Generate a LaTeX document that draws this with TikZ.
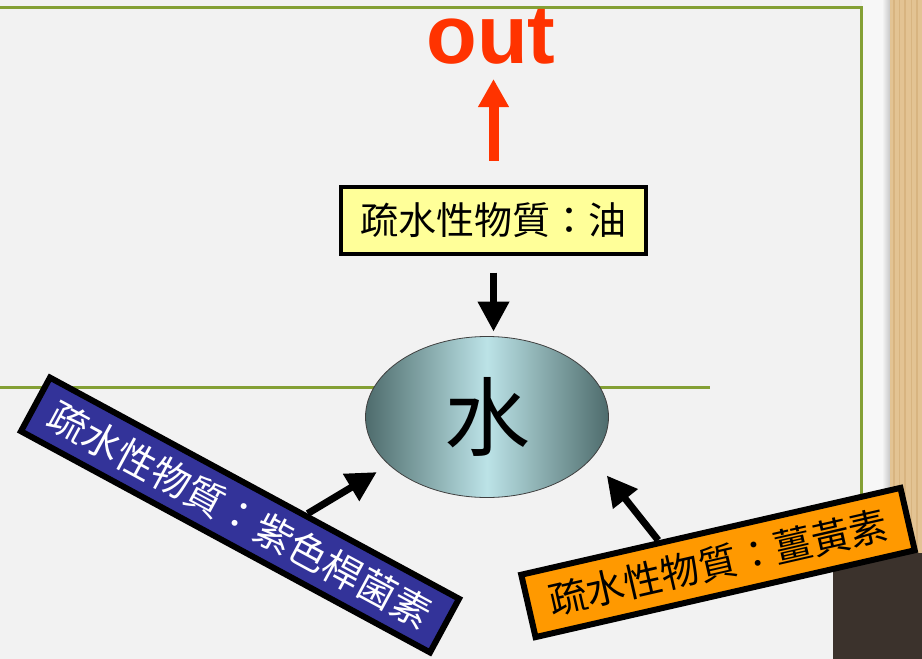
\documentclass[tikz,border=0pt]{standalone}
\usepackage{fontspec}
\setmainfont{Liberation Sans}
\newfontfamily\cjk{Noto Sans CJK TC}
\usetikzlibrary{arrows.meta,shapes.geometric,calc}
\definecolor{paper}{HTML}{F2F2F2}
\definecolor{paperhi}{HTML}{F7F7F7}
\definecolor{wood}{HTML}{E3C393}
\definecolor{woodd}{HTML}{D2AB74}
\definecolor{darkwood}{HTML}{3B322C}
\definecolor{frame}{HTML}{84A035}
\definecolor{oily}{HTML}{FFFF99}
\definecolor{purp}{HTML}{333399}
\definecolor{orng}{HTML}{FF9900}
\definecolor{outred}{HTML}{FF3300}
\definecolor{slate}{HTML}{4E6C6C}
\definecolor{aqua}{HTML}{BCE3E7}
\tikzset{
  labelbox/.style={rectangle, draw=black, inner sep=0pt},
  blkarrow/.style={draw=black, line width=7pt, -{Triangle[width=30pt,length=30pt]}},
  redarrow/.style={draw=outred, line width=10pt, -{Triangle[width=29pt,length=28pt]}},
  frameline/.style={draw=frame, line width=3pt},
}
\begin{document}
\begin{tikzpicture}[x=1pt,y=-1pt]
\useasboundingbox (0,0) rectangle (922,659);
% background
\fill[paper] (0,0) rectangle (890,659);
\fill[paperhi] (862,0) rectangle (884,659);
\shade[left color=paperhi, right color=black!22] (882,0) rectangle (890,659);
\fill[wood] (890,0) rectangle (922,659);
\foreach \x/\w in {894/1.2,899/0.8,905/1.5,911/0.7,917/1.1}
  \draw[woodd, line width=\w pt, opacity=0.6] (\x,0) -- (\x,659);
\fill[darkwood] (833,553) rectangle (922,659);
% frame lines
\draw[frameline] (0,7) -- (861,7) -- (861,520);
\draw[frameline] (0,387) -- (710,387);
% nodes
\node[labelbox, fill=oily, line width=4pt, minimum width=305pt, minimum height=67pt,
      font=\cjk\fontsize{38pt}{42pt}\selectfont] (oil) at (493.5,220) {疏水性物質：油};
\node[ellipse, draw=black!75, line width=0.8pt, left color=slate, right color=slate,
      middle color=aqua, minimum width=243pt, minimum height=161pt, inner sep=0pt]
      (water) at (487,417) {\raisebox{-10pt}{\cjk\fontsize{86pt}{90pt}\selectfont 水}};
\node[labelbox, fill=purp, text=white, line width=6pt, minimum width=465pt,
      minimum height=61pt, rotate=-28.4, font=\cjk\fontsize{39pt}{42pt}\selectfont]
      (purple) at (240,515) {疏水性物質：紫色桿菌素};
\node[labelbox, fill=orng, text=black, line width=6pt, minimum width=389pt,
      minimum height=64pt, rotate=12.9, font=\cjk\fontsize{38.5pt}{42pt}\selectfont]
      (cur) at (718,562.5) {疏水性物質：薑黃素};
\node[text=outred, font=\fontsize{83pt}{90pt}\selectfont\bfseries, anchor=base,
      inner sep=0pt] (out) at (491,63) {out};
% connectors
\draw[blkarrow, shorten <=17pt, shorten >=4.5pt] (oil.south) -- (oil.south |- water.north);
\draw[blkarrow, shorten >=14pt] ($(purple.north)!0.25!(purple.north east)$) -- (water.206);
\draw[blkarrow, shorten >=23pt] ($(cur.north)!0.27!(cur.north west)$) -- (water.339);
\draw[redarrow, shorten <=24pt, shorten >=15pt] (oil.north) -- (oil.north |- out.south);
\end{tikzpicture}
\end{document}
